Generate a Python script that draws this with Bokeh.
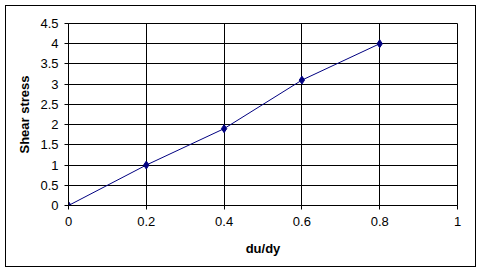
from bokeh.plotting import figure
from bokeh.models import Range1d, FixedTicker
from bokeh.embed import file_html
from bokeh.resources import INLINE

x_vals = [0.0, 0.2, 0.4, 0.6, 0.8]
y_vals = [0.0, 1.0, 1.9, 3.1, 4.0]
x_ticks = [0, 0.2, 0.4, 0.6, 0.8, 1]
y_ticks = [0, 0.5, 1, 1.5, 2, 2.5, 3, 3.5, 4, 4.5]
x_label = "du/dy"
y_label = "Shear stress"

FONT = "Liberation Sans"

p = figure(width=471, height=262, output_backend="svg", toolbar_location=None,
           x_range=Range1d(0, 1), y_range=Range1d(0, 4.5),
           min_border_left=62, min_border_top=17, min_border_right=20, min_border_bottom=63,
           margin=(5, 0, 0, 5), styles={"border": "1px solid black"})
p.background_fill_color = "white"
p.border_fill_color = "white"
p.outline_line_color = "black"
p.outline_line_width = 1

p.line(x_vals, y_vals, line_color="#000080", line_width=1)
p.scatter(x_vals, y_vals, marker="diamond", size=8, fill_color="#000080", line_color="#000080")

for ax in (p.xaxis[0], p.yaxis[0]):
    ax.axis_line_color = "black"
    ax.major_tick_line_color = "black"
    ax.major_tick_in = 0
    ax.major_tick_out = 4
    ax.minor_tick_line_color = None
    ax.major_label_text_font = FONT
    ax.major_label_text_font_size = "13px"
    ax.major_label_text_color = "black"
    ax.axis_label_text_font = FONT
    ax.axis_label_text_font_size = "13px"
    ax.axis_label_text_font_style = "bold"
    ax.axis_label_text_color = "black"

p.xaxis.ticker = FixedTicker(ticks=x_ticks)
p.yaxis.ticker = FixedTicker(ticks=y_ticks)
p.xaxis.major_label_overrides = {0: "0", 1: "1"}
p.yaxis.major_label_overrides = {0: "0", 1: "1", 2: "2", 3: "3", 4: "4"}
p.xaxis.axis_label = x_label
p.yaxis.axis_label = y_label
p.xaxis.major_label_standoff = 7
p.yaxis.major_label_standoff = 6
p.xaxis.axis_label_standoff = 12
p.yaxis.axis_label_standoff = 5

p.xgrid.ticker = FixedTicker(ticks=x_ticks)
p.ygrid.ticker = FixedTicker(ticks=y_ticks)
for g in (p.xgrid[0], p.ygrid[0]):
    g.grid_line_color = "black"
    g.grid_line_width = 1
    g.grid_line_alpha = 1

open("out.html", "w").write(file_html(p, INLINE))
